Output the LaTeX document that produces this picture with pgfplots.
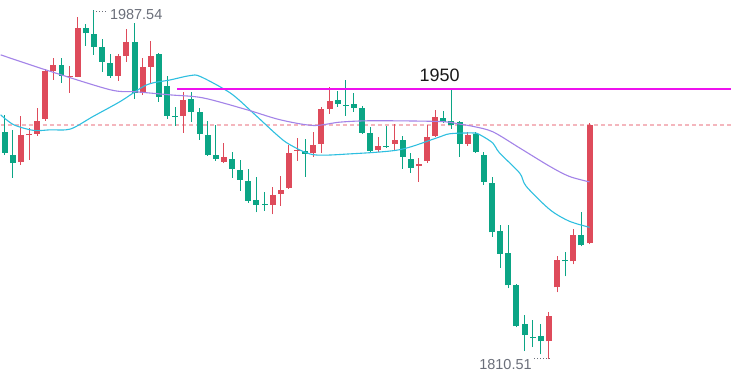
\documentclass[border=0pt]{standalone}
\usepackage{pgfplots}
\usepackage{pgfplotstable}
\pgfplotsset{compat=1.18}
\usepackage{fontspec}
\setmainfont{Liberation Sans}
\definecolor{upc}{HTML}{DE4B5B}
\definecolor{dnc}{HTML}{0BA585}
\definecolor{maone}{HTML}{2EBFE0}
\definecolor{matwo}{HTML}{A383E8}
\definecolor{mag}{HTML}{EE11EE}
\definecolor{pk}{HTML}{F4B6BD}
\definecolor{lbl}{HTML}{6B6F7A}

\pgfplotstableread{
i O H L C
2 1910.7 1933.9 1909.1 1924.3
3 1924.1 1927.9 1911.7 1924.6
4 1924.8 1938.0 1923.8 1931.4
5 1932.4 1957.7 1931.4 1956.7
6 1956.7 1963.3 1952.1 1959.7
8 1953.7 1959.2 1945.6 1954.2
9 1953.7 1984.0 1953.4 1978.2
14 1954.2 1965.3 1951.6 1964.3
15 1964.3 1977.9 1961.2 1971.4
17 1945.6 1963.3 1944.6 1958.7
18 1958.7 1971.9 1950.6 1964.3
22 1933.9 1946.1 1925.3 1942.0
27 1910.7 1920.3 1909.9 1913.2
33 1888.7 1898.0 1883.9 1894.0
34 1894.5 1903.6 1888.4 1896.5
35 1897.5 1919.3 1896.8 1915.2
36 1916.0 1922.8 1911.2 1916.5
38 1915.2 1925.8 1913.2 1919.3
39 1919.8 1938.5 1915.2 1937.5
40 1937.5 1948.6 1934.9 1941.5
46 1916.5 1923.3 1915.5 1918.8
48 1919.8 1929.9 1916.7 1921.8
51 1908.4 1912.7 1900.5 1909.6
52 1910.9 1929.4 1910.2 1923.3
53 1923.8 1937.0 1923.3 1933.4
57 1919.8 1925.8 1918.8 1924.3
67 1819.6 1834.3 1810.51 1832.3
68 1846.9 1862.6 1844.4 1860.6
70 1860.1 1876.3 1858.6 1873.7
72 1869.2 1930.4 1868.7 1929.4
}\upT

\pgfplotstableread{
i O H L C
0 1925.8 1934.4 1914.2 1915.2
1 1914.2 1926.8 1902.6 1910.2
7 1959.7 1963.3 1950.6 1954.2
10 1978.2 1980.5 1969.3 1975.7
11 1975.4 1987.54 1964.8 1968.8
12 1968.8 1972.9 1956.2 1961.2
13 1960.7 1965.3 1953.1 1954.2
16 1971.4 1981.0 1942.5 1945.6
19 1965.3 1965.8 1941.0 1943.5
20 1949.1 1954.2 1932.4 1933.9
21 1933.9 1938.5 1928.9 1933.4
23 1942.5 1946.1 1930.9 1936.0
24 1936.0 1938.0 1921.8 1924.8
25 1924.3 1931.4 1913.7 1914.0
26 1914.2 1929.4 1911.2 1912.2
28 1912.2 1915.7 1902.6 1907.1
29 1906.6 1911.7 1896.0 1901.6
30 1901.1 1907.1 1889.9 1890.9
31 1891.4 1903.1 1884.9 1888.7
32 1889.2 1895.5 1885.9 1888.7
37 1916.2 1922.3 1903.1 1914.7
41 1942.0 1946.6 1938.5 1940.0
42 1939.5 1952.1 1933.9 1939.0
43 1940.0 1945.6 1936.0 1938.0
44 1938.0 1939.0 1924.8 1925.3
45 1925.3 1928.4 1915.2 1916.2
47 1918.8 1928.9 1917.7 1918.2
49 1921.8 1923.8 1907.1 1913.2
50 1912.2 1915.2 1905.1 1907.6
54 1932.9 1936.5 1930.4 1930.9
55 1931.1 1946.8 1927.4 1929.4
56 1930.9 1931.4 1913.2 1919.8
58 1924.8 1925.8 1915.2 1915.7
59 1914.2 1915.7 1899.0 1900.5
60 1900.0 1903.1 1872.7 1874.8
61 1875.3 1878.8 1857.0 1864.1
62 1864.6 1878.8 1846.4 1847.9
63 1847.9 1848.4 1826.7 1827.2
64 1828.2 1832.8 1814.6 1822.7
65 1821.9 1830.2 1816.6 1821.4
66 1822.1 1828.2 1813.0 1819.6
69 1860.6 1865.1 1852.5 1860.1
71 1873.7 1884.9 1867.7 1868.2
}\dnT

\pgfplotstableread{
x y
-0.49 1934.4
1.1 1929.4
3.56 1926.5
5.65 1926.8
8.1 1927.2
10.9 1933.6
14.25 1941.2
17.5 1949.6
20.4 1952.1
22.85 1954.3
24.1 1953.8
27.8 1945.4
30.6 1935.3
33.5 1924.3
35.1 1919.3
38.0 1914.2
42.5 1914.6
48.6 1916.7
53.2 1922.7
54.8 1924.8
57.7 1925.2
58.5 1924.3
60.1 1920.1
60.9 1915.2
63.4 1904.9
64.2 1898.2
67.1 1886.4
69.5 1880.5
72 1877.4
}\maA

\pgfplotstableread{
x y
-0.49 1964.8
5.04 1957.2
13.0 1947.1
16.1 1946.1
20.4 1944.5
24.4 1943.0
29.8 1937.0
33.9 1931.9
38.0 1929.0
41.3 1930.7
45.3 1931.4
53.6 1931.0
56.0 1929.7
57.7 1928.5
60.1 1925.8
63.4 1917.6
67.1 1908.3
69.5 1903.2
72 1900.4
}\maB

\begin{document}
\begin{tikzpicture}
\begin{axis}[
  width=732bp, height=379bp, scale only axis,
  xmin=-0.4914, xmax=89.43, ymin=1800.9, ymax=1992.6,
  axis lines=none, ticks=none,
  axis background/.style={fill=white},
  clip=false,
]
% current price dashed line
\addplot[pk, line width=1.3bp, dash pattern=on 4bp off 3bp, forget plot]
  coordinates {(-0.4914,1929.2) (89.43,1929.2)};

% wicks
\addplot[draw=none, mark=none, forget plot,
  error bars/.cd, y dir=plus, y explicit, error mark=none,
  error bar style={draw=upc, line width=1bp}]
  table[x=i, y=L, y error plus expr={\thisrow{H}-\thisrow{L}}] {\upT};
\addplot[draw=none, mark=none, forget plot,
  error bars/.cd, y dir=plus, y explicit, error mark=none,
  error bar style={draw=dnc, line width=1bp}]
  table[x=i, y=L, y error plus expr={\thisrow{H}-\thisrow{L}}] {\dnT};
% bodies
\addplot[draw=none, mark=none, forget plot,
  error bars/.cd, y dir=plus, y explicit, error mark=none,
  error bar style={draw=upc, line width=6bp}]
  table[x=i, y=O, y error plus expr={max(\thisrow{C}-\thisrow{O},0.5)}] {\upT};
\addplot[draw=none, mark=none, forget plot,
  error bars/.cd, y dir=plus, y explicit, error mark=none,
  error bar style={draw=dnc, line width=6bp}]
  table[x=i, y=C, y error plus expr={max(\thisrow{O}-\thisrow{C},0.5)}] {\dnT};

% moving averages
\addplot[maone, line width=1.1bp, smooth, mark=none] table[x=x,y=y] {\maA};
\addplot[matwo, line width=1.1bp, smooth, mark=none] table[x=x,y=y] {\maB};

% 1950 line
\addplot[mag, line width=1.8bp, mark=none] coordinates {(21.25,1947.4) (89.43,1947.4)};
\node[font=\fontsize{18bp}{20bp}\selectfont, text=black!90] at (axis cs:53.56,1954.4) {1950};

% extreme labels
\draw[lbl, line width=1bp, dash pattern=on 1bp off 2bp] (axis cs:10.93,1987.0) -- (axis cs:12.6,1987.0);
\node[font=\fontsize{14.5bp}{16bp}\selectfont, text=lbl, anchor=west, inner sep=0pt] at (axis cs:12.95,1985.0) {1987.54};
\draw[lbl, line width=1bp, dash pattern=on 1bp off 2bp] (axis cs:65.2,1810.8) -- (axis cs:67.1,1810.8);
\node[font=\fontsize{14.5bp}{16bp}\selectfont, text=lbl, anchor=east, inner sep=0pt] at (axis cs:64.9,1808.0) {1810.51};
\end{axis}
\end{tikzpicture}
\end{document}
